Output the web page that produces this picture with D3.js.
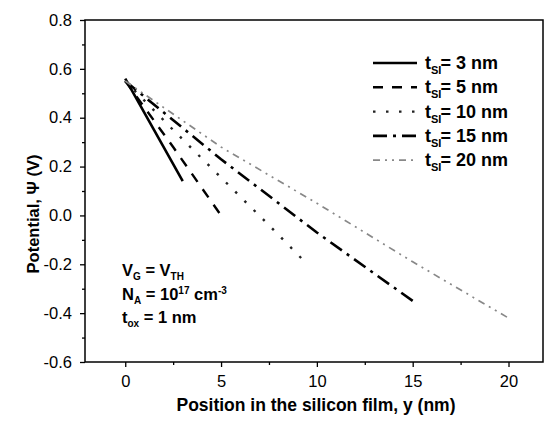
<!DOCTYPE html>
<html lang="en">
<head>
    <meta charset="UTF-8">
    <title>Potential vs position</title>
    <style>
        body, html { margin: 0; padding: 0; background: #fff; }
        #chart { width: 550px; height: 423px; }
        text { font-family: "Liberation Sans", Arial, sans-serif; }
    </style>
    <script src="https://d3js.org/d3.v7.min.js"></script>
</head>
<body>
    <div id="chart"></div>
    <script>
        // series: thickness label + (y, potential) points
        const seriesNames = ["3", "5", "10", "15", "20"];
        const tsi3  = [[0, 0.56], [1.5, 0.35], [3, 0.14]];
        const tsi5  = [[0, 0.55], [2.5, 0.28], [5, 0.0]];
        const tsi10 = [[0, 0.55], [2.5, 0.35], [5, 0.155], [7.5, -0.04], [9.5, -0.2]];
        const tsi15 = [[0, 0.55], [5, 0.23], [10, -0.07], [15, -0.35]];
        const tsi20 = [[0, 0.55], [5, 0.28], [10, 0.05], [15, -0.19], [20, -0.42]];
        const allSeries = [tsi3, tsi5, tsi10, tsi15, tsi20];

        const xTicks = [0, 5, 10, 15, 20];
        const yTicks = [-0.6, -0.4, -0.2, 0.0, 0.2, 0.4, 0.6, 0.8];

        const margin = { top: 20, right: 7, bottom: 61, left: 85 },
            width = 550 - margin.left - margin.right,
            height = 423 - margin.top - margin.bottom;

        const svg = d3.select("#chart").append("svg")
            .attr("width", 550)
            .attr("height", 423);
        const g = svg.append("g")
            .attr("transform", `translate(${margin.left},${margin.top})`);

        const x = d3.scaleLinear().domain([-2.1, 21.8]).range([0, width]);
        const y = d3.scaleLinear().domain([-0.6, 0.8]).range([height, 0]);

        // line styles per series
        const styles = [
            { dash: null, w: 2.6, c: "#000" },
            { dash: "10,9", w: 2.4, c: "#000" },
            { dash: "2.5,10.5", w: 2.4, c: "#222" },
            { dash: "14,6,3,6", w: 2.6, c: "#000" },
            { dash: "7,5,2,5,2,5", w: 1.7, c: "#888" }
        ];

        const line = d3.line().x(d => x(d[0])).y(d => y(d[1]));

        allSeries.forEach((s, i) => {
            g.append("path")
                .datum(s)
                .attr("fill", "none")
                .attr("stroke", styles[i].c)
                .attr("stroke-width", styles[i].w)
                .attr("stroke-dasharray", styles[i].dash)
                .attr("d", line);
        });

        // frame
        g.append("rect")
            .attr("width", width).attr("height", height)
            .attr("fill", "none").attr("stroke", "#000").attr("stroke-width", 1.5);

        // x axis
        g.append("g").attr("transform", `translate(0,${height})`)
            .call(d3.axisBottom(x).tickValues(xTicks).tickSize(5).tickPadding(8).tickFormat(d3.format("d")));
        g.append("g").attr("transform", `translate(0,${height})`)
            .call(d3.axisBottom(x).tickValues([2.5, 7.5, 12.5, 17.5]).tickSize(3).tickFormat(""));

        // y axis
        const yAxis = g.append("g")
            .call(d3.axisLeft(y).tickValues(yTicks).tickSize(5).tickPadding(8).tickFormat(d3.format(".1f")));
        g.append("g")
            .call(d3.axisLeft(y).tickValues([-0.5, -0.3, -0.1, 0.1, 0.3, 0.5, 0.7]).tickSize(3).tickFormat(""));

        g.selectAll(".domain").remove();
        g.selectAll(".tick line").attr("stroke", "#000").attr("stroke-width", 1.3);
        g.selectAll(".tick text")
            .attr("fill", "#000")
            .style("font-size", "16.5px")
            .style("font-family", "'Liberation Sans', Arial, sans-serif");
        yAxis.selectAll(".tick text").text(d => d3.format(".1f")(d).replace("−", "-"));

        // axis titles
        svg.append("text")
            .attr("x", 316)
            .attr("y", 411)
            .attr("text-anchor", "middle")
            .style("font-size", "17.5px")
            .style("font-weight", "bold")
            .text("Position in the silicon film, y (nm)");

        svg.append("text")
            .attr("transform", "translate(39,214) rotate(-90)")
            .attr("text-anchor", "middle")
            .style("font-size", "16.5px")
            .style("font-weight", "bold")
            .text("Potential, \u03A8 (V)");

        // legend
        const lx1 = 373, lx2 = 417, tx = 425, ly0 = 63, lstep = 24.3;
        seriesNames.forEach((name, i) => {
            const yy = ly0 + i * lstep;
            svg.append("line")
                .attr("x1", lx1).attr("x2", lx2)
                .attr("y1", yy).attr("y2", yy)
                .attr("stroke", styles[i].c)
                .attr("stroke-width", styles[i].w)
                .attr("stroke-dasharray", styles[i].dash);
            const t = svg.append("text")
                .attr("x", tx).attr("y", yy + 6)
                .style("font-size", "18px")
                .style("font-weight", "bold");
            t.append("tspan").text("t");
            t.append("tspan").attr("dy", 5).style("font-size", "11px").text("SI");
            t.append("tspan").attr("dy", -5).attr("dx", -1).text("= " + name + " nm");
        });

        // annotation
        const ax = 122;
        const a1 = svg.append("text").attr("x", ax).attr("y", 276)
            .style("font-size", "16.5px").style("font-weight", "bold");
        a1.append("tspan").text("V");
        a1.append("tspan").attr("dy", 4).style("font-size", "10px").text("G");
        a1.append("tspan").attr("dy", -4).text(" = V");
        a1.append("tspan").attr("dy", 4).style("font-size", "10px").text("TH");

        const a2 = svg.append("text").attr("x", ax).attr("y", 300)
            .style("font-size", "16.5px").style("font-weight", "bold");
        a2.append("tspan").text("N");
        a2.append("tspan").attr("dy", 4).style("font-size", "10px").text("A");
        a2.append("tspan").attr("dy", -4).text(" = 10");
        a2.append("tspan").attr("dy", -6).style("font-size", "10px").text("17");
        a2.append("tspan").attr("dy", 6).text(" cm");
        a2.append("tspan").attr("dy", -6).style("font-size", "10px").text("-3");

        const a3 = svg.append("text").attr("x", ax).attr("y", 323)
            .style("font-size", "16.5px").style("font-weight", "bold");
        a3.append("tspan").text("t");
        a3.append("tspan").attr("dy", 4).style("font-size", "10px").text("ox");
        a3.append("tspan").attr("dy", -4).text(" = 1 nm");
    </script>
</body>
</html>
